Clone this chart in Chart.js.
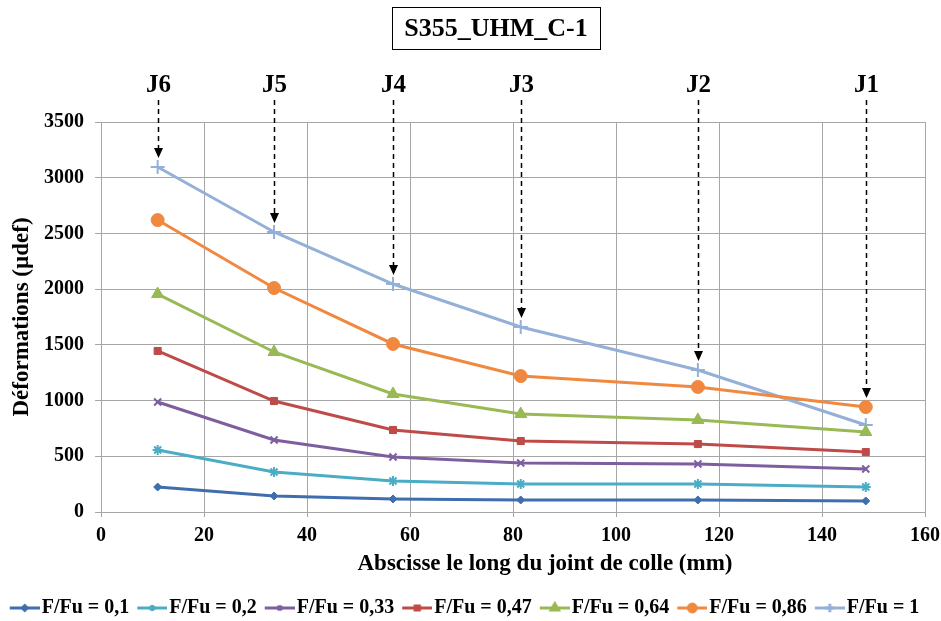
<!DOCTYPE html>
<html><head><meta charset="utf-8">
<script src="https://cdn.jsdelivr.net/npm/chart.js@4.4.0/dist/chart.umd.min.js"></script>
<style>html,body{margin:0;padding:0;background:#fff}canvas{display:block}</style>
</head><body>
<canvas id="c" width="941" height="621"></canvas>
<script>
const chartTitle = "S355_UHM_C-1";
const xAxisTitle = "Abscisse le long du joint de colle (mm)";
const yAxisTitle = "Déformations (µdef)";
const joints = ["J6", "J5", "J4", "J3", "J2", "J1"];
const abscissa = [11, 33.6, 56.7, 81.5, 115.9, 148.5];
const xTicks = [0, 20, 40, 60, 80, 100, 120, 140, 160];
const yTicks = [0, 500, 1000, 1500, 2000, 2500, 3000, 3500];
const seriesNames = ["F/Fu = 0,1", "F/Fu = 0,2", "F/Fu = 0,33", "F/Fu = 0,47", "F/Fu = 0,64", "F/Fu = 0,86", "F/Fu = 1"];
const s01 = [224, 144, 117, 108, 108, 99];
const s02 = [556, 359, 278, 251, 251, 224];
const s033 = [987, 646, 494, 440, 431, 386];
const s047 = [1445, 996, 736, 637, 610, 538];
const s064 = [1956, 1436, 1059, 879, 826, 718];
const s086 = [2620, 2010, 1508, 1220, 1122, 942];
const s1 = [3096, 2513, 2046, 1660, 1274, 781];
const seriesValues = [s01, s02, s033, s047, s064, s086, s1];

const colors = ["#3F6EAE", "#4AACC5", "#7D5FA0", "#BE4B48", "#98B954", "#F0893F", "#95B0D8"];
const styles = ["rectRot", "star", "crossRot", "rect", "triangle", "circle", "cross"];
const radii = [4, 5, 5, 5, 7, 6.5, 7];

const FONT = "'Liberation Serif', 'Times New Roman', serif";

function legendIcon(i) {
  const cv = document.createElement('canvas');
  cv.width = 42; cv.height = 16;
  const g = cv.getContext('2d');
  g.strokeStyle = colors[i]; g.fillStyle = colors[i]; g.lineWidth = 3;
  g.beginPath(); g.moveTo(12, 8); g.lineTo(42, 8); g.stroke();
  Chart.helpers.drawPoint(g, {pointStyle: styles[i], radius: radii[i] * 0.6, borderWidth: 1.5}, 27, 8);
  return cv;
}

const datasets = seriesValues.map((vals, i) => ({
  label: seriesNames[i],
  data: vals.map((v, k) => ({x: abscissa[k], y: v})),
  borderColor: colors[i],
  backgroundColor: colors[i],
  borderWidth: 3,
  pointStyle: styles[i],
  pointRadius: radii[i],
  pointBorderWidth: (styles[i] === 'cross' || styles[i] === 'crossRot' || styles[i] === 'star') ? 2 : 1,
  tension: 0,
  fill: false
}));

const annot = {
  id: 'annot',
  afterLayout(chart) {
    const lg = chart.legend;
    if (lg) {
      const dy = 611 - (lg.top + lg.bottom) / 2;
      lg.top += dy; lg.bottom += dy;
    }
  },
  afterDraw(chart) {
    const ctx = chart.ctx;
    const xs = chart.scales.x, ys = chart.scales.y;
    ctx.save();
    ctx.fillStyle = '#000';
    ctx.textAlign = 'center'; ctx.textBaseline = 'middle';
    // title box
    ctx.font = "bold 26px " + FONT;
    ctx.strokeStyle = '#000'; ctx.lineWidth = 1;
    ctx.strokeRect(392.5, 7.5, 208, 42);
    ctx.fillText(chartTitle, 496, 29);
    // x axis title
    ctx.font = "bold 23px " + FONT;
    ctx.fillText(xAxisTitle, 545, 564);
    // joints
    joints.forEach((j, k) => {
      const px = Math.round(xs.getPixelForValue(abscissa[k])) + 0.5;
      const maxV = Math.max(...seriesValues.map(s => s[k]));
      const tip = ys.getPixelForValue(maxV) - 9;
      ctx.font = "bold 25px " + FONT;
      ctx.fillText(j, px, 86);
      ctx.setLineDash([5, 4]);
      ctx.lineWidth = 1.5;
      ctx.beginPath(); ctx.moveTo(px, 100); ctx.lineTo(px, tip - 8); ctx.stroke();
      ctx.setLineDash([]);
      ctx.beginPath();
      ctx.moveTo(px - 4.5, tip - 10); ctx.lineTo(px + 4.5, tip - 10); ctx.lineTo(px, tip); ctx.closePath();
      ctx.fill();
    });
    ctx.restore();
  }
};

new Chart(document.getElementById('c'), {
  type: 'line',
  data: { datasets },
  options: {
    responsive: false,
    animation: false,
    devicePixelRatio: 1,
    layout: { padding: { top: 122, left: 0, right: 16, bottom: 0 } },
    scales: {
      x: {
        type: 'linear', min: 0, max: 160,
        afterBuildTicks: s => { s.ticks = xTicks.map(v => ({value: v})); },
        afterFit: s => {
          s.height = 621 - 512 - (s.chart.legend ? s.chart.legend.height : 30);
          s.paddingRight = 0; s.paddingLeft = 0;
        },
        grid: { color: '#A6A6A6', lineWidth: 1, tickLength: 5 },
        border: { color: '#A6A6A6' },
        ticks: { color: '#000', font: { family: FONT, size: 20, weight: 'bold' }, padding: 7, maxRotation: 0 },
        title: { display: false }
      },
      y: {
        min: 0, max: 3500,
        afterBuildTicks: s => { s.ticks = yTicks.map(v => ({value: v})); },
        afterFit: s => { s.width = 101; },
        grid: { color: '#A6A6A6', lineWidth: 1, tickLength: 6 },
        border: { color: '#A6A6A6' },
        ticks: { color: '#000', font: { family: FONT, size: 20, weight: 'bold' }, padding: 11, callback: v => String(v) },
        title: { display: true, text: yAxisTitle, color: '#000', font: { family: FONT, size: 23, weight: 'bold' }, padding: { top: 8, bottom: 0 } }
      }
    },
    plugins: {
      legend: {
        display: true, position: 'bottom',
        labels: {
          color: '#000', font: { family: FONT, size: 20, weight: 'bold' },
          usePointStyle: true, pointStyleWidth: 26, boxHeight: 16, padding: 4,
          generateLabels: chart => chart.data.datasets.map((d, i) => ({
            text: d.label, pointStyle: legendIcon(i), fillStyle: colors[i], strokeStyle: colors[i],
            lineWidth: 0, datasetIndex: i, hidden: false, fontColor: '#000'
          }))
        }
      },
      tooltip: { enabled: false }
    }
  },
  plugins: [annot]
});
</script>
</body></html>
